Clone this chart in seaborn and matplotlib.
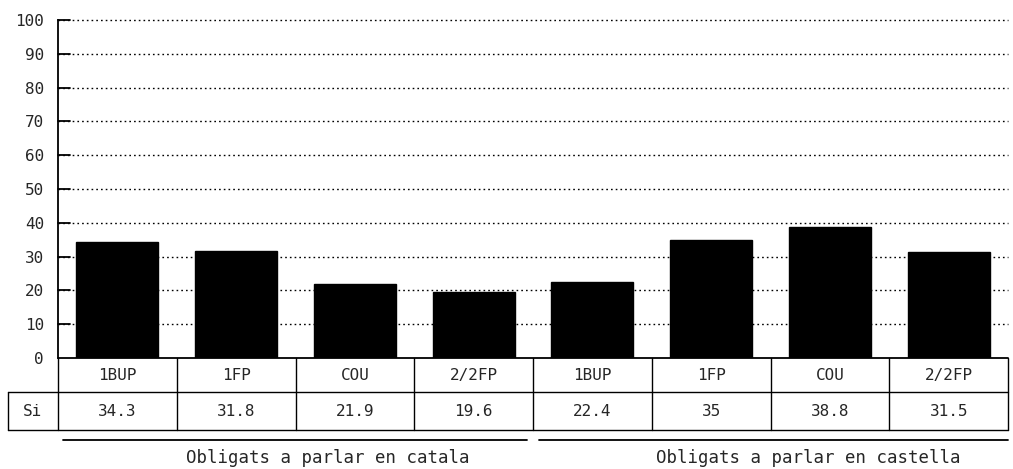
import matplotlib
matplotlib.use('Agg')
import matplotlib.pyplot as plt
import matplotlib.transforms as mtransforms
import seaborn as sns
import pandas as pd

# Data
courses = ['1BUP', '1FP', 'COU', '2/2FP', '1BUP', '1FP', 'COU', '2/2FP']
si_values = [34.3, 31.8, 21.9, 19.6, 22.4, 35, 38.8, 31.5]
si_labels = ['34.3', '31.8', '21.9', '19.6', '22.4', '35', '38.8', '31.5']
groups = ['Obligats a parlar en catala', 'Obligats a parlar en castella']
row_label = 'Si'
yticks = list(range(0, 101, 10))

df = pd.DataFrame({'slot': range(len(courses)), 'course': courses, 'value': si_values})

sns.set_style('white')
plt.rcParams['font.family'] = ['DejaVu Sans Mono', 'DejaVu Sans']
FS = 11.5

fig = plt.figure(figsize=(10.13, 4.69), dpi=100)
ax = fig.add_axes([58 / 1013, 111 / 469, 950 / 1013, 338 / 469])

sns.barplot(data=df, x='slot', y='value', color='black', width=0.69,
            saturation=1, ax=ax, edgecolor='black')

ax.set_xlim(-0.5, len(courses) - 0.5)
ax.set_ylim(0, 100)
ax.set_yticks(yticks)
ax.set_yticklabels([str(t) for t in yticks], fontsize=FS)
ax.set_xticks([])
ax.set_xlabel('')
ax.set_ylabel('')
ax.tick_params(axis='y', length=0, pad=10)

for s in ['top', 'right', 'bottom']:
    ax.spines[s].set_visible(False)
ax.spines['left'].set_color('black')
ax.spines['left'].set_linewidth(1.3)

# dotted gridlines with short solid tick stubs
for t in yticks[1:]:
    ax.axhline(t, color='black', linestyle=(0, (1.2, 2.2)), linewidth=1.0,
               zorder=0, clip_on=False)
    ax.plot([-0.5, -0.4], [t, t], color='black', linewidth=1.3, clip_on=False)

# table below the axes
trans = mtransforms.blended_transform_factory(ax.transData, ax.transAxes)
r1 = -34 / 338
r2 = -72 / 338
lw = 1.0
n = len(courses)
xl = -0.5 - 50 / 118.75
ax.plot([-0.5, n - 0.5], [0, 0], color='black', lw=1.3, transform=trans, clip_on=False)
ax.plot([xl, n - 0.5], [r1, r1], color='black', lw=lw, transform=trans, clip_on=False)
ax.plot([xl, n - 0.5], [r2, r2], color='black', lw=lw, transform=trans, clip_on=False)
ax.plot([xl, xl], [r1, r2], color='black', lw=lw, transform=trans, clip_on=False)
for i in range(n + 1):
    ax.plot([i - 0.5, i - 0.5], [0, r2], color='black', lw=lw, transform=trans, clip_on=False)
for i, (c, v) in enumerate(zip(courses, si_labels)):
    ax.text(i, r1 / 2, c, ha='center', va='center', fontsize=FS, transform=trans)
    ax.text(i, (r1 + r2) / 2, v, ha='center', va='center', fontsize=FS, transform=trans)
ax.text((xl - 0.5) / 2, (r1 + r2) / 2, row_label, ha='center', va='center',
        fontsize=FS, transform=trans)

# group underlines and labels
ul = -82 / 338
gl = -100 / 338
half = n // 2
ax.plot([-0.46, half - 0.5 - 0.05], [ul, ul], color='black', lw=1.3, transform=trans, clip_on=False)
ax.plot([half - 0.5 + 0.05, n - 0.5], [ul, ul], color='black', lw=1.3, transform=trans, clip_on=False)
ax.text(1.77, gl, groups[0], ha='center', va='center', fontsize=12.5, transform=trans)
ax.text(5.82, gl, groups[1], ha='center', va='center', fontsize=12.5, transform=trans)

fig.savefig('out.png', dpi=100)
